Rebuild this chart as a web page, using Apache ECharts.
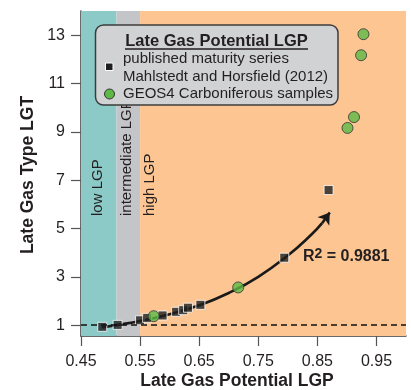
<!DOCTYPE html>
<html>
<head>
<meta charset="utf-8">
<script src="https://cdn.jsdelivr.net/npm/echarts@6/dist/echarts.min.js"></script>
<style>
html,body{margin:0;padding:0;background:#fff;}
#chart{width:411px;height:390px;}
</style>
</head>
<body>
<div id="chart"></div>
<script>
// ---- data ----
const xTicks = [0.45, 0.55, 0.65, 0.75, 0.85, 0.95];
const yTicks = [1, 3, 5, 7, 9, 11, 13];
const bandNames = ['low LGP', 'intermediate LGP', 'high LGP'];
const bandFrom = [0.45, 0.51, 0.55];
const bandTo = [0.51, 0.55, 1.0];
const publishedSeries = [
  [0.486, 0.93], [0.512, 1.01], [0.550, 1.20], [0.562, 1.30], [0.588, 1.40],
  [0.611, 1.55], [0.623, 1.62], [0.631, 1.72], [0.652, 1.84], [0.794, 3.79], [0.869, 6.59]
];
const geos4Samples = [
  [0.573, 1.37], [0.716, 2.56], [0.901, 9.16], [0.912, 9.61], [0.924, 12.17], [0.928, 13.04]
];
const fitCurve = [
  [0.485, 0.90], [0.51, 1.00], [0.55, 1.17], [0.60, 1.45], [0.65, 1.82],
  [0.70, 2.33], [0.75, 3.00], [0.80, 3.88], [0.84, 4.75], [0.858, 5.22]
];
const arrowTip = [0.871, 5.66];
const baseLine = 1;
const r2Text = '0.9881';

const FONT = "'Liberation Sans', Arial, Helvetica, sans-serif";
const TXT = '#231f20';
const bandColors = ['#8bcac7', '#c4c5c9', '#fdc592'];

const chart = echarts.init(document.getElementById('chart'));
chart.setOption({
  animation: false,
  backgroundColor: '#ffffff',
  grid: { left: 81, right: 5, top: 11, bottom: 54 },
  xAxis: {
    type: 'value', min: 0.45, max: 1.0,
    axisLine: { show: true, onZero: false, lineStyle: { color: '#3a3a3a', width: 1.5 } },
    axisTick: { show: true, length: 10, customValues: xTicks, lineStyle: { color: '#555', width: 1.2 } },
    axisLabel: { customValues: xTicks, margin: 18, color: TXT, fontSize: 16, fontFamily: FONT,
                 formatter: v => v.toFixed(2) },
    splitLine: { show: false }
  },
  yAxis: {
    type: 'value', min: 0.55, max: 14,
    axisLine: { show: true, onZero: false, lineStyle: { color: '#3a3a3a', width: 1.5 } },
    axisTick: { show: true, length: 10, customValues: yTicks, lineStyle: { color: '#555', width: 1.2 } },
    axisLabel: { customValues: yTicks, margin: 16, color: TXT, fontSize: 16, fontFamily: FONT },
    splitLine: { show: false }
  },
  series: [
    {
      type: 'line', data: [], silent: true, z: 1,
      markArea: {
        silent: true,
        data: bandNames.map((n, i) => [
          { xAxis: bandFrom[i], itemStyle: { color: bandColors[i], opacity: 1 } },
          { xAxis: bandTo[i] }
        ])
      },
      markLine: {
        silent: true, symbol: ['none', 'none'],
        label: { show: false },
        lineStyle: { color: '#111', type: [6, 4], width: 1.5 },
        data: [{ yAxis: baseLine }]
      }
    },
    {
      type: 'line', data: fitCurve, smooth: true, showSymbol: false, silent: true, z: 3,
      lineStyle: { color: '#1a1a1a', width: 2.6 },
      markLine: {
        silent: true, symbol: ['none', 'arrow'], symbolSize: 11,
        label: { show: false },
        lineStyle: { color: '#1a1a1a', width: 2.6, type: 'solid' },
        data: [[{ coord: fitCurve[fitCurve.length - 1] }, { coord: arrowTip }]]
      }
    },
    {
      name: 'published maturity series', type: 'scatter', data: publishedSeries, z: 4,
      symbol: 'rect', symbolSize: 9,
      itemStyle: { color: '#1f1f1f', borderColor: '#ffffff', borderWidth: 1 }
    },
    {
      name: 'GEOS4 Carboniferous samples', type: 'scatter', data: geos4Samples, z: 5,
      symbol: 'circle', symbolSize: 11,
      itemStyle: { color: '#5cb946', borderColor: '#333333', borderWidth: 1 }
    }
  ],
  graphic: [
    // band labels
    { type: 'text', x: 98, y: 216, rotation: Math.PI / 2, z: 10,
      style: { text: bandNames[0], font: '15px ' + FONT, fill: TXT, align: 'left', verticalAlign: 'middle' } },
    { type: 'text', x: 127, y: 216, rotation: Math.PI / 2, z: 10,
      style: { text: bandNames[1], font: '15px ' + FONT, fill: TXT, align: 'left', verticalAlign: 'middle' } },
    { type: 'text', x: 150, y: 216, rotation: Math.PI / 2, z: 10,
      style: { text: bandNames[2], font: '15px ' + FONT, fill: TXT, align: 'left', verticalAlign: 'middle' } },
    // legend box
    { type: 'rect', z: 20, shape: { x: 95.5, y: 25, width: 242.5, height: 80, r: 8 },
      style: { fill: '#d1d2d4', stroke: '#3c3c3c', lineWidth: 1.5 } },
    { type: 'text', z: 21, x: 216.5, y: 41,
      style: { text: 'Late Gas Potential LGP', font: 'bold 16.5px ' + FONT, fill: TXT, align: 'center', verticalAlign: 'middle' } },
    { type: 'line', z: 21, shape: { x1: 125, y1: 49, x2: 308, y2: 49 }, style: { stroke: TXT, lineWidth: 1.3 } },
    { type: 'text', z: 21, x: 123, y: 59,
      style: { text: 'published maturity series', font: '15px ' + FONT, fill: TXT, align: 'left', verticalAlign: 'middle' } },
    { type: 'text', z: 21, x: 123, y: 76.5,
      style: { text: 'Mahlstedt and Horsfield (2012)', font: '15px ' + FONT, fill: TXT, align: 'left', verticalAlign: 'middle' } },
    { type: 'rect', z: 21, shape: { x: 105.5, y: 63, width: 7.5, height: 7.5 },
      style: { fill: '#1f1f1f', stroke: '#fff', lineWidth: 1 } },
    { type: 'text', z: 21, x: 123, y: 94,
      style: { text: 'GEOS4 Carboniferous samples', font: '15px ' + FONT, fill: TXT, align: 'left', verticalAlign: 'middle' } },
    { type: 'circle', z: 21, shape: { cx: 109.5, cy: 94, r: 5 },
      style: { fill: '#5cb946', stroke: '#333', lineWidth: 1 } },
    // R2 annotation
    { type: 'text', z: 10, x: 303, y: 257,
      style: {
        text: '{a|R}{s|2}{a| = ' + r2Text + '}',
        verticalAlign: 'middle', align: 'left',
        rich: {
          a: { font: 'bold 16px ' + FONT, fill: TXT, color: TXT },
          s: { font: 'bold 14px ' + FONT, fill: TXT, color: TXT, padding: [0, 0, 6, 0] }
        }
      } },
    // axis titles
    { type: 'text', z: 10, x: 237, y: 381,
      style: { text: 'Late Gas Potential LGP', font: 'bold 17.5px ' + FONT, fill: TXT, align: 'center', verticalAlign: 'middle' } },
    { type: 'text', z: 10, x: 28, y: 175, rotation: Math.PI / 2,
      style: { text: 'Late Gas Type LGT', font: 'bold 17.5px ' + FONT, fill: TXT, align: 'center', verticalAlign: 'middle' } }
  ]
});
</script>
</body>
</html>
